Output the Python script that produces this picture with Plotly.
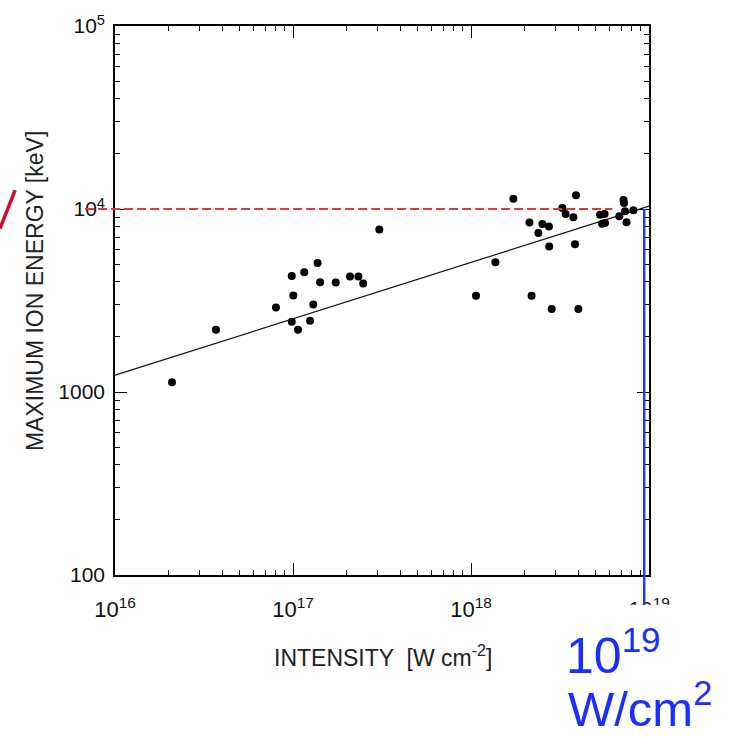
import numpy as np
import plotly.graph_objects as go

# ---------------- data ----------------
intensity = [
    2.09e16, 3.69e16, 8.02e16, 9.84e16, 1.157e17, 1.374e17, 1.42e17, 1.738e17,
    2.09e17, 2.33e17, 2.48e17, 1.004e17, 1.30e17, 9.84e16, 1.067e17, 1.247e17,
    3.055e17,
    1.067e18, 1.371e18, 1.73e18, 2.13e18, 2.19e18, 2.39e18, 2.52e18, 2.74e18,
    2.75e18, 2.84e18, 3.26e18, 3.40e18, 3.76e18, 3.89e18, 3.84e18, 4.01e18,
    5.31e18, 5.63e18, 5.45e18, 5.66e18, 7.19e18, 7.24e18, 6.81e18, 7.33e18,
    8.17e18, 7.48e18,
]
max_energy = [
    1132, 2190, 2898, 4307, 4508, 5063, 3981, 3966,
    4272, 4272, 3917, 3365, 3008, 2420, 2190, 2449,
    7730,
    3357, 5109, 11370, 8434, 3357, 7390, 8277, 8020,
    6248, 2845, 10120, 9398, 9020, 11880, 6412, 2845,
    9316, 9398, 8294, 8397, 11190, 10770, 9134, 9719,
    9843, 8458,
]
fit_x = [1e16, 1e19]
fit_y = [1236, 10380]

x_tickvals = [1e16, 1e17, 1e18, 1e19]
x_ticktext = ["10<sup>16</sup>", "10<sup>17</sup>", "10<sup>18</sup>", "10<sup>19</sup>"]
y_tickvals = [100, 1000, 1e4, 1e5]
y_ticktext = ["100", "1000", "10<sup>4</sup>", "10<sup>5</sup>"]

ref_energy = 1e4          # red dashed reference level
ref_intensity = 9.4e18    # blue marker line
X_RANGE = [16, 19]
Y_RANGE = [2, 5]


def xp(v):
    return (np.log10(v) - X_RANGE[0]) / (X_RANGE[1] - X_RANGE[0])


def yp(v):
    return (np.log10(v) - Y_RANGE[0]) / (Y_RANGE[1] - Y_RANGE[0])


FONT = "Liberation Sans, Arial, sans-serif"

fig = go.Figure()
fig.add_trace(go.Scatter(x=fit_x, y=fit_y, mode="lines",
                         line=dict(color="#111111", width=1.2),
                         showlegend=False, hoverinfo="skip"))
fig.add_trace(go.Scatter(x=intensity, y=max_energy, mode="markers",
                         marker=dict(color="#000000", size=8),
                         showlegend=False))

axis_common = dict(
    type="log", showgrid=False, zeroline=False,
    showline=True, linecolor="#000000", linewidth=1.6, mirror="ticks",
    ticks="inside", ticklen=12, tickwidth=1.2, tickcolor="#000000",
    minor=dict(ticks="inside", ticklen=5, tickwidth=1, tickcolor="#000000",
               dtick="D1", showgrid=False),
    tickmode="array",
)

fig.update_xaxes(range=X_RANGE, tickvals=x_tickvals, ticktext=x_ticktext,
                 ticklabelstandoff=14,
                 tickfont=dict(family=FONT, size=22, color="#111111"),
                 **axis_common)
fig.update_yaxes(range=Y_RANGE, tickvals=y_tickvals, ticktext=y_ticktext,
                 ticklabelstandoff=4,
                 tickfont=dict(family=FONT, size=21, color="#111111"),
                 **axis_common)

shapes = [
    # red dashed line at 10^4 keV
    dict(type="line", xref="paper", yref="paper", x0=-0.056, x1=0.931,
         y0=yp(ref_energy), y1=yp(ref_energy),
         line=dict(color="#dd3a3a", width=2, dash="9px,4px"), layer="above"),
    # white box hiding part of the 10^19 tick label
    dict(type="rect", xref="paper", yref="paper", x0=0.93, x1=1.10,
         y0=-0.09, y1=-0.054, fillcolor="#ffffff", line=dict(width=0),
         layer="above"),
    # blue vertical line
    dict(type="line", xref="paper", yref="paper", x0=xp(ref_intensity),
         x1=xp(ref_intensity), y0=yp(ref_energy), y1=-0.054,
         line=dict(color="#1e3cff", width=2.5), layer="above"),
    # red slash at far left
    dict(type="line", xref="paper", yref="paper", x0=-0.187, y0=0.701,
         x1=-0.2154, y1=0.631, line=dict(color="#c8102e", width=3.5),
         layer="above"),
]

annotations = [
    dict(text="MAXIMUM ION ENERGY [keV]", xref="paper", yref="paper",
         x=-0.15, y=0.517, xanchor="center", yanchor="middle", textangle=-90,
         showarrow=False, font=dict(family=FONT, size=23, color="#222222")),
    dict(text="INTENSITY  [W cm<sup>-2</sup>]", xref="paper", yref="paper",
         x=0.502, y=-0.148, xanchor="center", yanchor="middle",
         showarrow=False, font=dict(family=FONT, size=23, color="#222222")),
    dict(text="10<sup>19</sup>", xref="paper", yref="paper",
         x=0.934, y=-0.14, xanchor="center", yanchor="middle",
         showarrow=False, font=dict(family=FONT, size=50, color="#1a2eff")),
    dict(text="W/cm<sup>2</sup>", xref="paper", yref="paper",
         x=0.983, y=-0.295, xanchor="center", yanchor="bottom",
         showarrow=False, borderpad=0,
         font=dict(family=FONT, size=49, color="#1a2eff")),
]

fig.update_layout(
    width=735, height=737,
    margin=dict(l=115, r=86, t=20, b=162),
    paper_bgcolor="#ffffff", plot_bgcolor="#ffffff",
    shapes=shapes, annotations=annotations,
    font=dict(family=FONT),
)

fig.write_html("out.html")
